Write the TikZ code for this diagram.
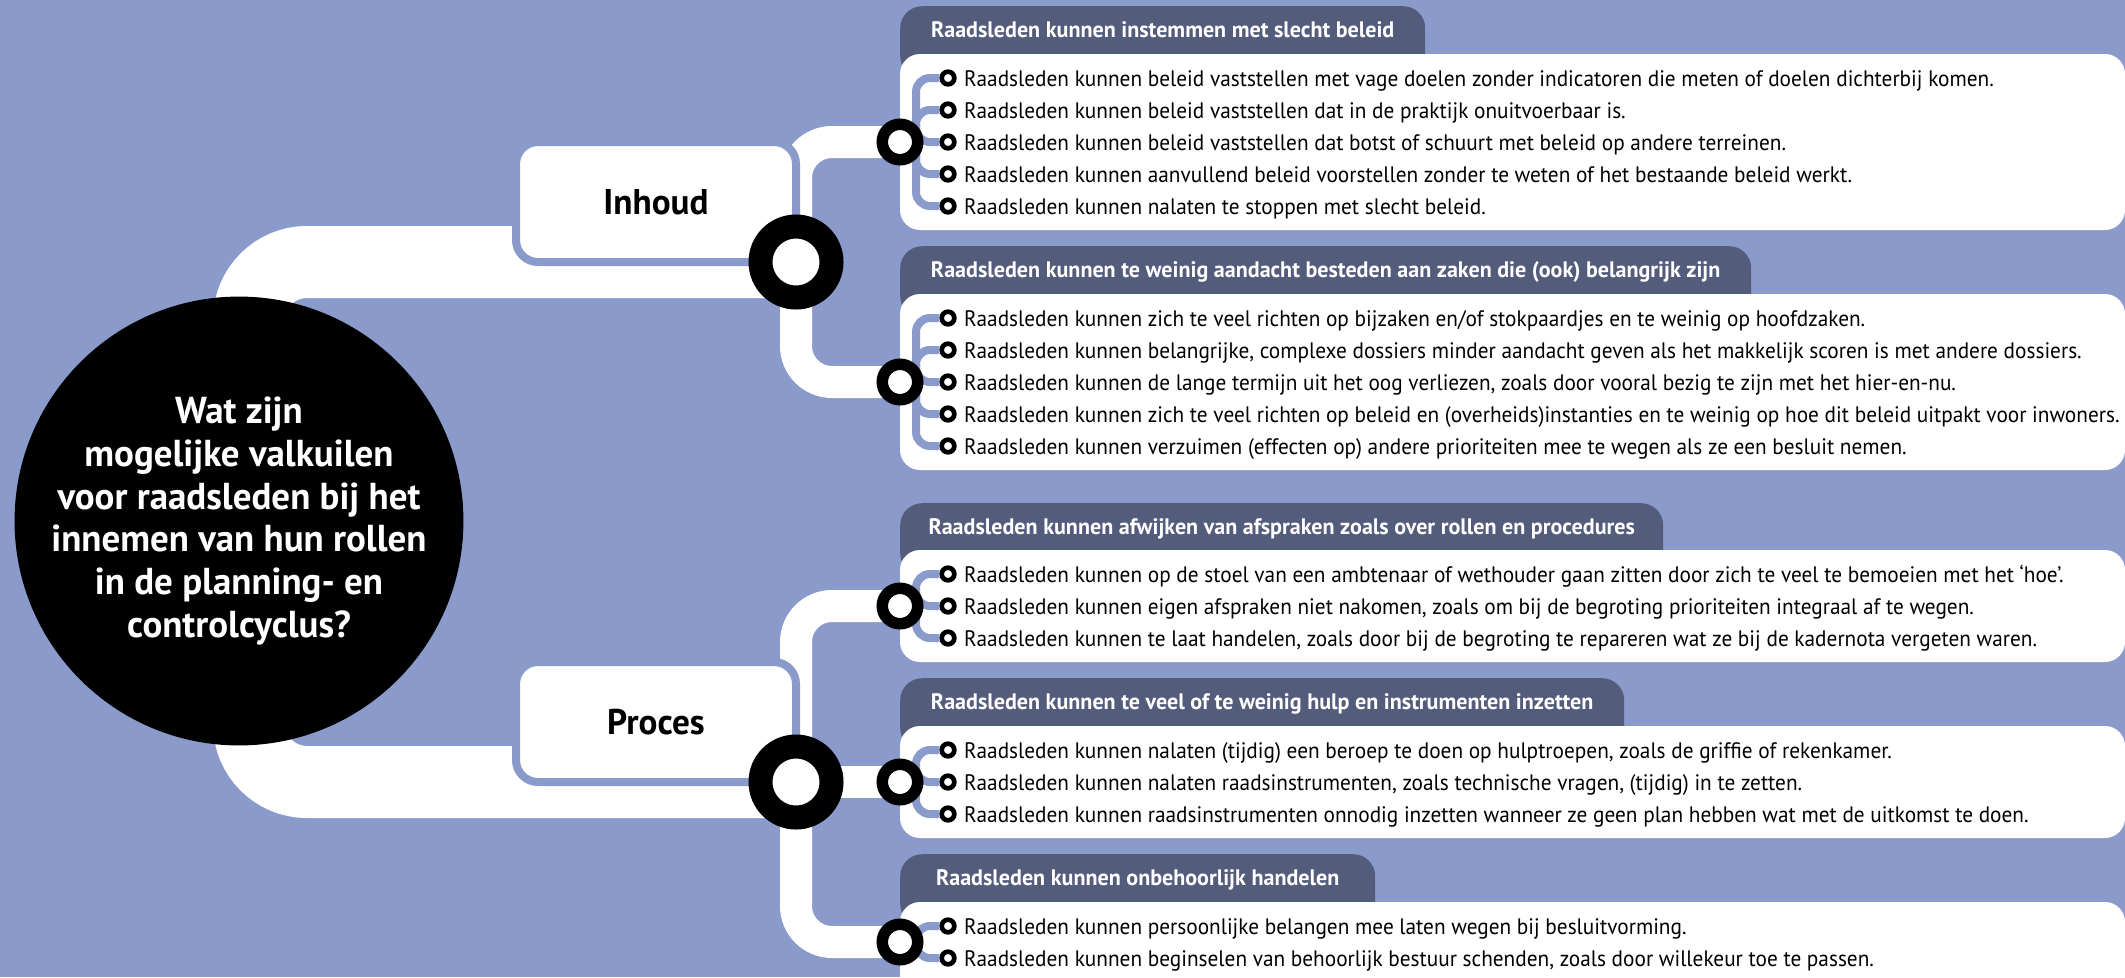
\documentclass[tikz,border=0pt]{standalone}
\usepackage{fontspec}
\setmainfont{PT Sans}[FakeStretch=0.95]
\newfontfamily\boldfont{PT Sans}[FakeStretch=0.985]
\usetikzlibrary{positioning}

\definecolor{bgblue}{RGB}{138,154,203}
\definecolor{headgray}{RGB}{84,92,124}

\tikzset{
  band/.style={draw=white, line width=#1},
  topic/.style={draw=bgblue, fill=white, line width=8pt, rounded corners=22pt,
    minimum width=280pt, minimum height=120pt, inner sep=0pt,
    font=\boldfont\bfseries\fontsize{35.7}{40}\selectfont},
  hub/.style={circle, draw=black, fill=white, line width=24pt, minimum size=71pt, inner sep=0pt},
  knot/.style={circle, draw=black, fill=white, line width=11.5pt, minimum size=35.5pt, inner sep=0pt},
  dot/.style={circle, draw=black, fill=white, line width=4.7pt, minimum size=12.6pt, inner sep=0pt},
  twig/.style={draw=bgblue, line width=8pt, rounded corners=14pt},
  panel/.style={fill=white, rounded corners=20pt},
  head/.style={anchor=north west, fill=headgray, text=white, rounded corners=22pt,
    inner xsep=0pt, inner ysep=0pt, text height=31pt, text depth=41pt,
    font=\boldfont\bfseries\fontsize{22.4}{26}\selectfont},
  item/.style={anchor=base west, inner sep=0pt, font=\fontsize{22.4}{26}\selectfont},
}

\begin{document}
\begin{tikzpicture}[x=1pt, y=-1pt]
\useasboundingbox (0,0) rectangle (2125,977);
\clip (0,0) rectangle (2125,977);
\fill[bgblue] (0,0) rectangle (2125,977);

% junction points
\coordinate (hubI) at (796,262);
\coordinate (hubP) at (796,782);
\coordinate (j1) at (900,142);
\coordinate (j2) at (900,382);
\coordinate (j3) at (900,606);
\coordinate (j4) at (900,782);
\coordinate (j5) at (900,942);

% white bands
\draw[band=72pt, rounded corners=58pt] (hubI) -- (249,262) -- (249,782) -- (hubP);
\draw[band=32pt, rounded corners=36pt] (j1) -| (hubI) |- (j2);
\draw[band=32pt, rounded corners=36pt] (j3) -| (hubP) |- (j5);
\draw[band=32pt] (hubP) -- (j4);

\node[circle, fill=black, text=white, minimum size=447pt, inner sep=0pt, align=center,
  font=\boldfont\bfseries\fontsize{37.5}{42.8}\selectfont] (vraag) at (239,521)
  {Wat zijn\\mogelijke valkuilen\\voor raadsleden bij het\\innemen van hun rollen\\in de planning- en\\controlcyclus?};

\node[topic] (inhoud) at (656,202) {Inhoud};
\node[topic] (proces) at (656,722) {Proces};
\node[hub] (ringI) at (hubI) {};
\node[hub] (ringP) at (hubP) {};

% headers and panels
\node[head, minimum width=525pt] (head1) at (900,6) {Raadsleden kunnen instemmen met slecht beleid};
\node[head, minimum width=851pt] (head2) at (900,246) {Raadsleden kunnen te weinig aandacht besteden aan zaken die (ook) belangrijk zijn};
\node[head, minimum width=763pt] (head3) at (900,503) {Raadsleden kunnen afwijken van afspraken zoals over rollen en procedures};
\node[head, minimum width=724pt] (head4) at (900,678) {Raadsleden kunnen te veel of te weinig hulp en instrumenten inzetten};
\node[head, minimum width=475pt] (head5) at (900,854) {Raadsleden kunnen onbehoorlijk handelen};
\fill[panel] (900,54) rectangle (2125,230);
\fill[panel] (900,294) rectangle (2125,470);
\fill[panel] (900,550) rectangle (2125,662);
\fill[panel] (900,726) rectangle (2125,838);
\fill[panel] (900,902) rectangle (2125,1000);

% panel 1
\foreach \t [count=\i from 0] in {
  {Raadsleden kunnen beleid vaststellen met vage doelen zonder indicatoren die meten of doelen dichterbij komen.},
  {Raadsleden kunnen beleid vaststellen dat in de praktijk onuitvoerbaar is.},
  {Raadsleden kunnen beleid vaststellen dat botst of schuurt met beleid op andere terreinen.},
  {Raadsleden kunnen aanvullend beleid voorstellen zonder te weten of het bestaande beleid werkt.},
  {Raadsleden kunnen nalaten te stoppen met slecht beleid.}}{
  \node[dot] (dotA\i) at (948,78+32*\i) {};
  \node[item] (itemA\i) at (964,86+32*\i) {\t};
  \draw[twig] (j1) ++(16,0) |- (dotA\i.west);
}
\node[knot] (ring1) at (j1) {};

% panel 2
\foreach \t [count=\i from 0] in {
  {Raadsleden kunnen zich te veel richten op bijzaken en/of stokpaardjes en te weinig op hoofdzaken.},
  {Raadsleden kunnen belangrijke, complexe dossiers minder aandacht geven als het makkelijk scoren is met andere dossiers.},
  {Raadsleden kunnen de lange termijn uit het oog verliezen, zoals door vooral bezig te zijn met het hier-en-nu.},
  {Raadsleden kunnen zich te veel richten op beleid en (overheids)instanties en te weinig op hoe dit beleid uitpakt voor inwoners.},
  {Raadsleden kunnen verzuimen (effecten op) andere prioriteiten mee te wegen als ze een besluit nemen.}}{
  \node[dot] (dotB\i) at (948,318+32*\i) {};
  \node[item] (itemB\i) at (964,326+32*\i) {\t};
  \draw[twig] (j2) ++(16,0) |- (dotB\i.west);
}
\node[knot] (ring2) at (j2) {};

% panel 3
\foreach \t [count=\i from 0] in {
  {Raadsleden kunnen op de stoel van een ambtenaar of wethouder gaan zitten door zich te veel te bemoeien met het ‘hoe’.},
  {Raadsleden kunnen eigen afspraken niet nakomen, zoals om bij de begroting prioriteiten integraal af te wegen.},
  {Raadsleden kunnen te laat handelen, zoals door bij de begroting te repareren wat ze bij de kadernota vergeten waren.}}{
  \node[dot] (dotC\i) at (948,574+32*\i) {};
  \node[item] (itemC\i) at (964,582+32*\i) {\t};
  \draw[twig] (j3) ++(16,0) |- (dotC\i.west);
}
\node[knot] (ring3) at (j3) {};

% panel 4
\foreach \t [count=\i from 0] in {
  {Raadsleden kunnen nalaten (tijdig) een beroep te doen op hulptroepen, zoals de griffie of rekenkamer.},
  {Raadsleden kunnen nalaten raadsinstrumenten, zoals technische vragen, (tijdig) in te zetten.},
  {Raadsleden kunnen raadsinstrumenten onnodig inzetten wanneer ze geen plan hebben wat met de uitkomst te doen.}}{
  \node[dot] (dotD\i) at (948,750+32*\i) {};
  \node[item] (itemD\i) at (964,758+32*\i) {\t};
  \draw[twig] (j4) ++(16,0) |- (dotD\i.west);
}
\node[knot] (ring4) at (j4) {};

% panel 5
\foreach \t [count=\i from 0] in {
  {Raadsleden kunnen persoonlijke belangen mee laten wegen bij besluitvorming.},
  {Raadsleden kunnen beginselen van behoorlijk bestuur schenden, zoals door willekeur toe te passen.}}{
  \node[dot] (dotE\i) at (948,926+32*\i) {};
  \node[item] (itemE\i) at (964,934+32*\i) {\t};
  \draw[twig] (j5) ++(16,0) |- (dotE\i.west);
}
\node[knot] (ring5) at (j5) {};
\end{tikzpicture}
\end{document}
